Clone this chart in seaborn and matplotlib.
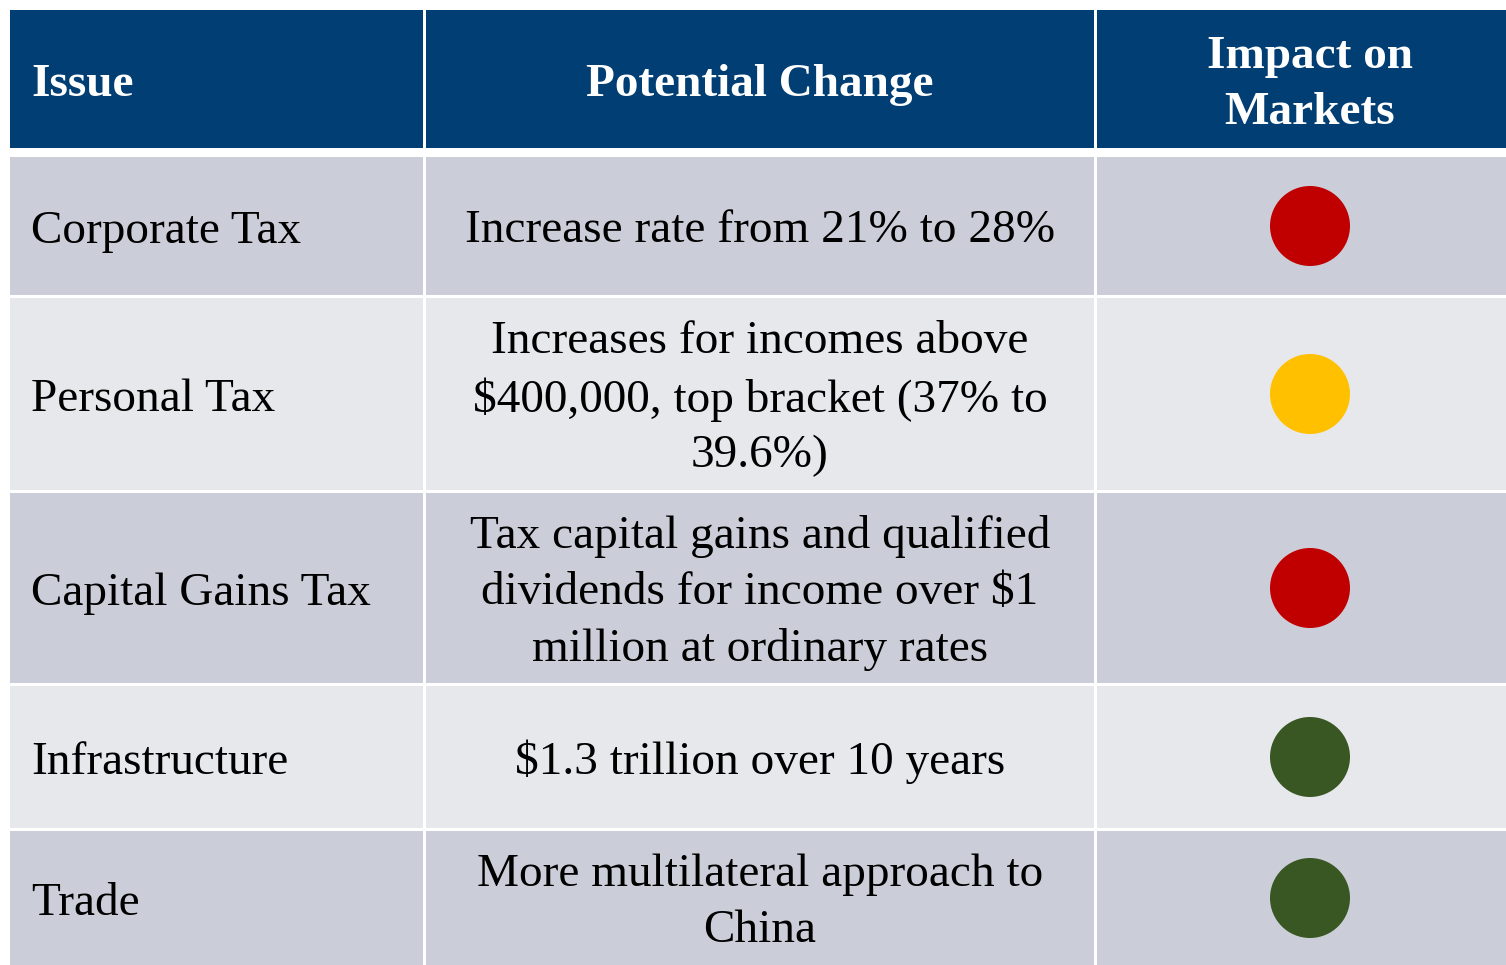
import matplotlib
matplotlib.use("Agg")
import matplotlib.pyplot as plt
from matplotlib.patches import Rectangle
import seaborn as sns
import pandas as pd

# ---- data ----
headers = ["Issue", "Potential Change", "Impact on\nMarkets"]
issues = ["Corporate Tax", "Personal Tax", "Capital Gains Tax", "Infrastructure", "Trade"]
changes = [
    "Increase rate from 21% to 28%",
    "Increases for incomes above\n$400,000, top bracket (37% to\n39.6%)",
    "Tax capital gains and qualified\ndividends for income over $1\nmillion at ordinary rates",
    "$1.3 trillion over 10 years",
    "More multilateral approach to\nChina",
]
impact = ["Negative", "Neutral", "Negative", "Positive", "Positive"]

# ---- layout (pixels) ----
W, H = 1506, 965
col_edges = [(10, 423), (426, 1094), (1097, 1523)]
header_band = (10, 148)
row_bands = [(157, 295), (298, 490), (493, 683), (686, 828), (831, 965)]

navy = "#003E73"
row_colors = ["#CBCED8", "#E7E8EC"]
impact_colors = {"Negative": "#C00000", "Neutral": "#FFC000", "Positive": "#385723"}

FONT = "Liberation Serif"
FS = 34
LS = 1.41

fig = plt.figure(figsize=(W / 100, H / 100), dpi=100)
ax = fig.add_axes([0, 0, 1, 1])

# header cells
for (x0, x1), txt, ha in zip(col_edges, headers, ["left", "center", "center"]):
    y0, y1 = header_band
    ax.add_patch(Rectangle((x0, y0), x1 - x0, y1 - y0, color=navy, lw=0, zorder=1))
    tx = x0 + 21 if ha == "left" else (x0 + x1) / 2
    ax.text(tx, (y0 + y1) / 2 + 6, txt, ha=ha, va="center", color="white",
            fontsize=FS, fontweight="bold", family=FONT, linespacing=LS,
            multialignment="center", zorder=3)

# body cells
for i, (y0, y1) in enumerate(row_bands):
    c = row_colors[i % 2]
    for (x0, x1) in col_edges:
        ax.add_patch(Rectangle((x0, y0), x1 - x0, y1 - y0, color=c, lw=0, zorder=1))
    yc = (y0 + y1) / 2
    ax.text(col_edges[0][0] + 21, yc + 6, issues[i], ha="left", va="center",
            fontsize=FS, family=FONT, color="black", zorder=3)
    ax.text((col_edges[1][0] + col_edges[1][1]) / 2, yc + 5, changes[i], ha="center",
            va="center", fontsize=FS, family=FONT, color="black",
            linespacing=LS, multialignment="center", zorder=3)

# impact dots via seaborn
df = pd.DataFrame({
    "x": [1310] * len(impact),
    "y": [(a + b) / 2 for a, b in row_bands],
    "impact": impact,
})
sns.scatterplot(data=df, x="x", y="y", hue="impact", palette=impact_colors,
                s=(80 * 0.72) ** 2, linewidth=0, legend=False, ax=ax, zorder=4)
ax.set_xlim(0, W)
ax.set_ylim(H, 0)
ax.axis("off")

fig.savefig("out.png", dpi=100, facecolor="white")
